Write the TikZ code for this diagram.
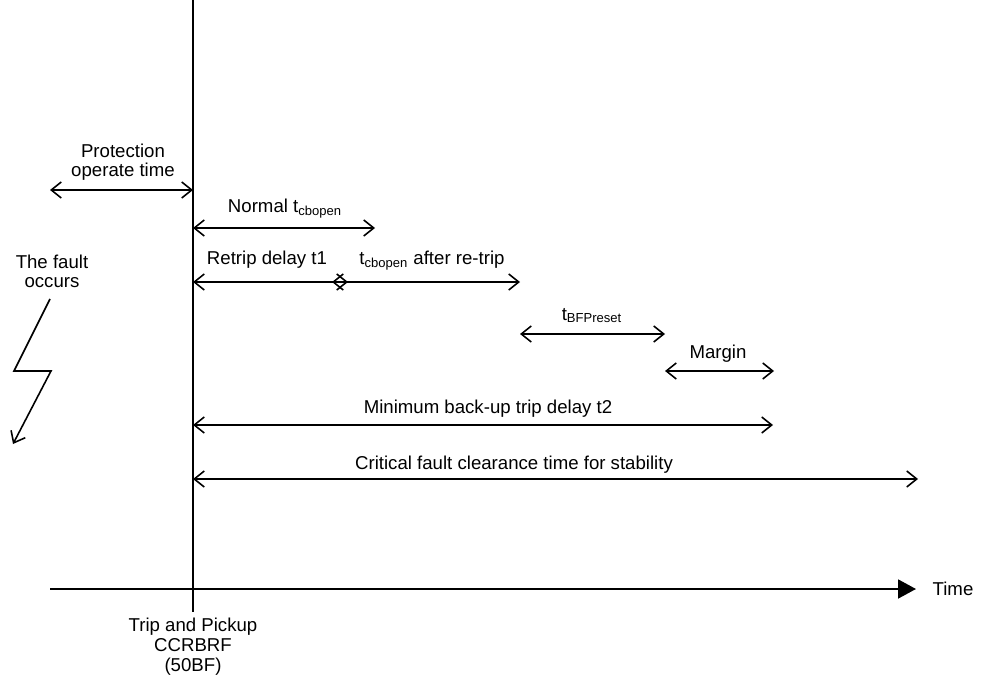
\documentclass[tikz,border=0pt]{standalone}
\usepackage{fontspec}
\setmainfont{Liberation Sans}
\usetikzlibrary{arrows.meta,positioning}
\tikzset{
  span/.style={
    {Straight Barb[length=2mm,width=3.2mm]}-{Straight Barb[length=2mm,width=3.2mm]},
    line width=0.9pt,draw=black
  },
  timeline/.style={-{Triangle[length=3.6mm,width=3.8mm]},line width=1.1pt},
  bolt/.style={-{Straight Barb[length=2mm,width=3.2mm]},line width=0.9pt},
  lbl/.style={
    inner sep=0pt,anchor=base,align=center,
    font=\fontsize{10.6pt}{11.2pt}\selectfont
  }
}

\begin{document}
\begin{tikzpicture}[x=0.02cm,y=-0.02cm]
  \useasboundingbox (0,0) rectangle (984,682);

  % time axis and pickup instant
  \coordinate (origin) at (50,589);
  \coordinate (tend) at (916,589);
  \coordinate (pickuptop) at (193,0);
  \coordinate (pickupbot) at (193,612);
  \draw[timeline] (origin) -- (tend);
  \draw[line width=1.1pt] (pickuptop) -- (pickupbot);
  \node[lbl] (time) at (953,595) {Time};
  \node[lbl] (pickup) at (193,671) {Trip and Pickup\\CCRBRF\\(50BF)};

  % fault
  \node[lbl] (fault) at (52,288) {The fault\\occurs};
  \coordinate (strike) at (50,299);
  \draw[bolt] (strike) -- ++(-36,72) -- ++(37,0) -- ++(-38,73);

  % intervals
  \coordinate (prot0) at (50,190);   \coordinate (prot1) at (193,190);
  \coordinate (norm0) at (193,228);  \coordinate (norm1) at (375,228);
  \coordinate (ret0) at (193,282);   \coordinate (ret1) at (340,282);
  \coordinate (open1) at (520,282);
  \coordinate (bfp0) at (520,334);   \coordinate (bfp1) at (665,334);
  \coordinate (marg0) at (665,371);  \coordinate (marg1) at (774,371);
  \coordinate (min0) at (193,425);   \coordinate (min1) at (773,425);
  \coordinate (crit0) at (193,479);  \coordinate (crit1) at (918,479);

  \draw[span] (prot0) -- (prot1);
  \draw[span] (norm0) -- (norm1);
  \draw[span,shorten >=-1.6mm] (ret0) -- (ret1);
  \draw[span,shorten <=-1.6mm] (ret1) -- (open1);
  \draw[span] (bfp0) -- (bfp1);
  \draw[span] (marg0) -- (marg1);
  \draw[span] (min0) -- (min1);
  \draw[span] (crit0) -- (crit1);

  \node[lbl] (protlbl) at (123,177) {Protection\\operate time};
  \node[lbl] (normlbl) at (285,213) {Normal t\textsubscript{cbopen}};
  \node[lbl] (retlbl) at (267,265) {Retrip delay t1};
  \node[lbl] (openlbl) at (432,265) {t\textsubscript{cbopen} after re-trip};
  \node[lbl] (bfplbl) at (592,320) {t\textsubscript{BFPreset}};
  \node[lbl] (marglbl) at (718,358) {Margin};
  \node[lbl] (minlbl) at (488,413) {Minimum back-up trip delay t2};
  \node[lbl] (critlbl) at (514,469) {Critical fault clearance time for stability};
\end{tikzpicture}
\end{document}
